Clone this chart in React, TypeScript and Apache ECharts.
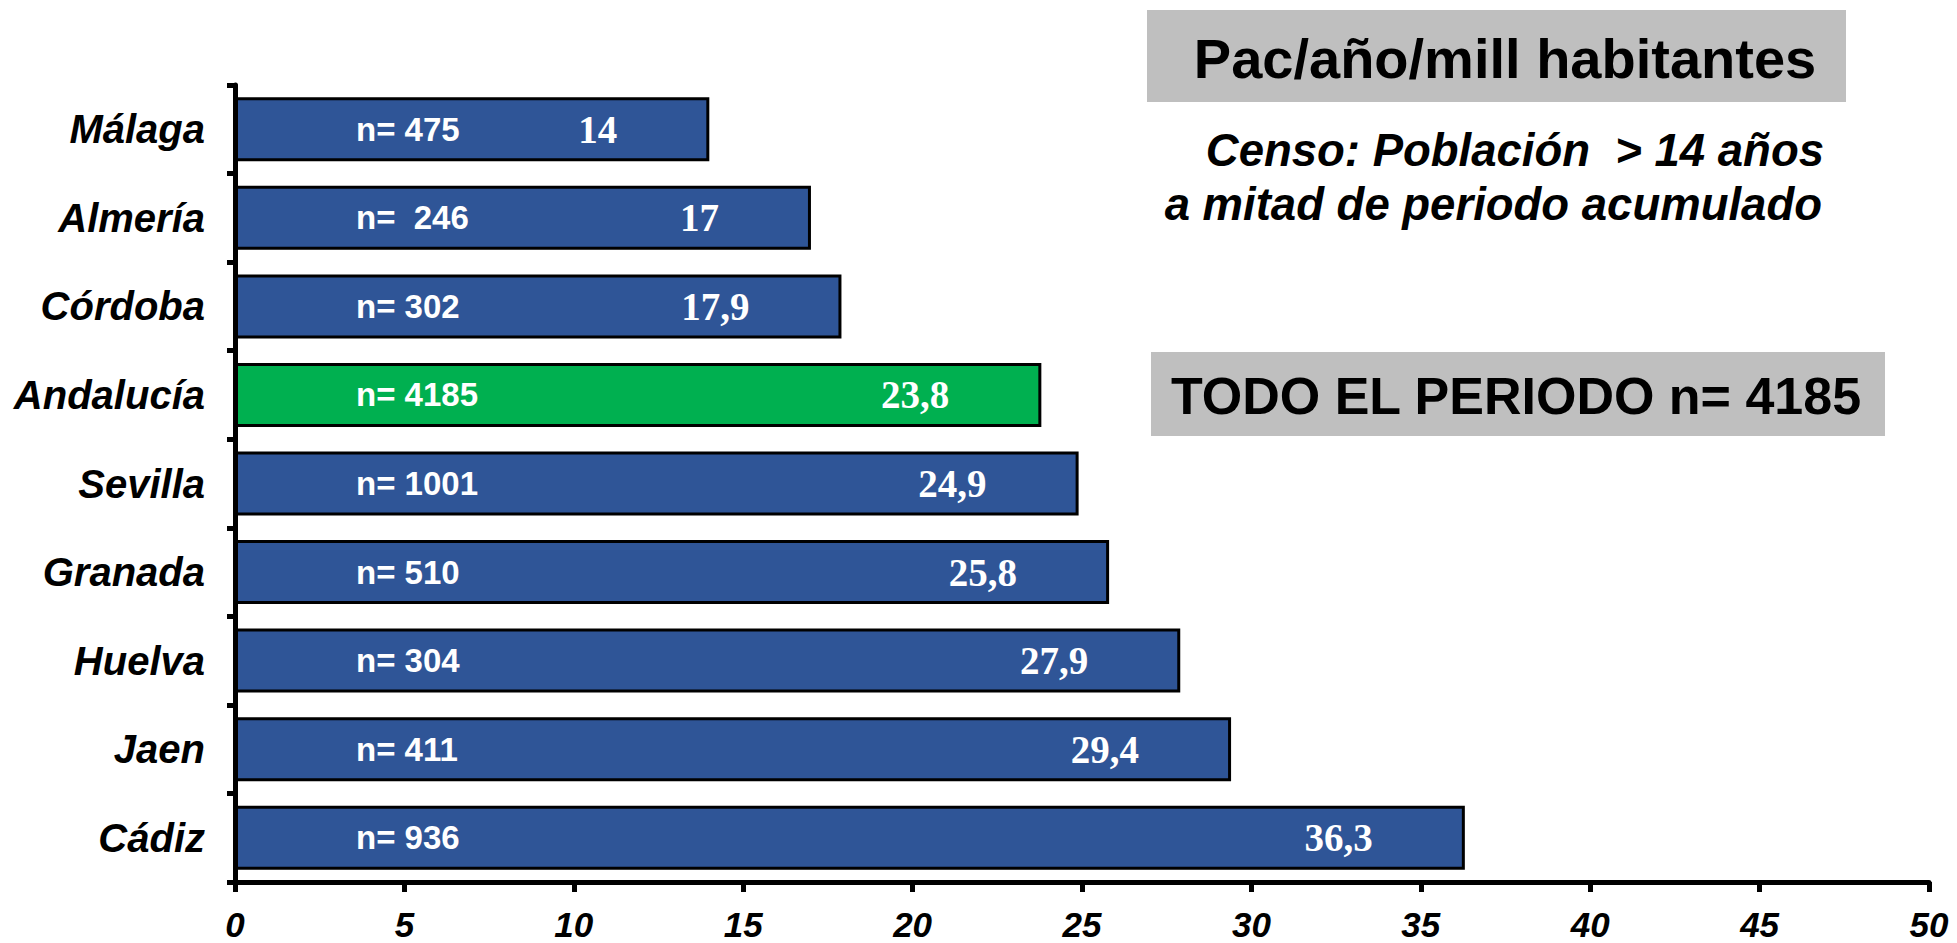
import React, { useEffect, useRef } from "react";
import * as echarts from "echarts";

const categories = ["Málaga", "Almería", "Córdoba", "Andalucía", "Sevilla", "Granada", "Huelva", "Jaen", "Cádiz"];
const rates = [14, 17, 17.9, 23.8, 24.9, 25.8, 27.9, 29.4, 36.3];
const nLabels = ["n= 475", "n=  246", "n= 302", "n= 4185", "n= 1001", "n= 510", "n= 304", "n= 411", "n= 936"];
const highlighted = "Andalucía";
const xTicks = { min: 0, max: 50, interval: 5 };
const titleText = "Pac/año/mill habitantes";
const censoLines = ["Censo: Población  > 14 años", "a mitad de periodo acumulado"];
const totalText = "TODO EL PERIODO n= 4185";

const SANS = "'Liberation Sans', Arial, sans-serif";
const SERIF = "'Liberation Serif', 'Times New Roman', serif";
const BLUE = "#2F5597";
const GREEN = "#00B050";

export default function App() {
  const ref = useRef<HTMLDivElement>(null);
  useEffect(() => {
    if (!ref.current) return;
    const chart = echarts.init(ref.current, undefined, { renderer: "svg" });
    const fmt = (v: number) => String(v).replace(".", ",");
    chart.setOption({
      animation: false,
      backgroundColor: "#ffffff",
      grid: { left: 235, right: 28, top: 85, bottom: 61, containLabel: false, outerBoundsMode: "none" },
      xAxis: {
        type: "value",
        min: xTicks.min,
        max: xTicks.max,
        interval: xTicks.interval,
        splitLine: { show: false },
        axisLine: { show: true, lineStyle: { color: "#000", width: 5 } },
        axisTick: { show: true, length: 10, lineStyle: { color: "#000", width: 5 } },
        axisLabel: {
          color: "#000",
          fontFamily: SANS,
          fontStyle: "italic",
          fontWeight: "bold",
          fontSize: 35,
          margin: 25,
        },
      },
      yAxis: {
        type: "category",
        inverse: true,
        data: categories,
        axisLine: { show: true, lineStyle: { color: "#000", width: 5 } },
        axisTick: { show: true, length: 8, lineStyle: { color: "#000", width: 5 } },
        axisLabel: {
          color: "#000",
          fontFamily: SANS,
          fontStyle: "italic",
          fontWeight: "bold",
          fontSize: 40,
          margin: 30,
        },
      },
      series: [
        {
          type: "bar",
          barWidth: 64,
          barGap: "-100%",
          data: rates.map((v, i) => ({
            value: v,
            itemStyle: { color: categories[i] === highlighted ? GREEN : BLUE },
          })),
          itemStyle: { borderColor: "#000", borderWidth: 3 },
          label: {
            show: true,
            position: "insideRight",
            distance: 92,
            formatter: (p: any) => fmt(p.value),
            color: "#fff",
            fontFamily: SERIF,
            fontWeight: "bold",
            fontSize: 39,
          },
          z: 2,
        },
        {
          type: "bar",
          barWidth: 64,
          barGap: "-100%",
          silent: true,
          data: rates,
          itemStyle: { color: "rgba(0,0,0,0)", borderWidth: 0 },
          label: {
            show: true,
            position: "insideLeft",
            distance: 121,
            formatter: (p: any) => nLabels[p.dataIndex],
            color: "#fff",
            fontFamily: SANS,
            fontWeight: "bold",
            fontSize: 33,
          },
          z: 3,
        },
      ],
      graphic: [
        { type: "rect", shape: { x: 1147, y: 10, width: 699, height: 92 }, style: { fill: "#BFBFBF" } },
        {
          type: "text",
          x: 1505,
          y: 58,
          style: {
            text: titleText,
            fill: "#000",
            font: `bold 56px ${SANS}`,
            textAlign: "center",
            textVerticalAlign: "middle",
          },
        },
        {
          type: "text",
          x: 1824,
          y: 150,
          style: {
            text: censoLines[0],
            fill: "#000",
            font: `italic bold 45.5px ${SANS}`,
            textAlign: "right",
            textVerticalAlign: "middle",
          },
        },
        {
          type: "text",
          x: 1822,
          y: 204,
          style: {
            text: censoLines[1],
            fill: "#000",
            font: `italic bold 45.5px ${SANS}`,
            textAlign: "right",
            textVerticalAlign: "middle",
          },
        },
        { type: "rect", shape: { x: 1151, y: 352, width: 734, height: 84 }, style: { fill: "#BFBFBF" } },
        {
          type: "text",
          x: 1516,
          y: 396,
          style: {
            text: totalText,
            fill: "#000",
            font: `bold 52px ${SANS}`,
            textAlign: "center",
            textVerticalAlign: "middle",
          },
        },
      ],
    });
    return () => chart.dispose();
  }, []);
  return (
    <div
      ref={ref}
      style={{ position: "fixed", left: 0, top: 0, width: 1957, height: 943, background: "#fff" }}
    />
  );
}
